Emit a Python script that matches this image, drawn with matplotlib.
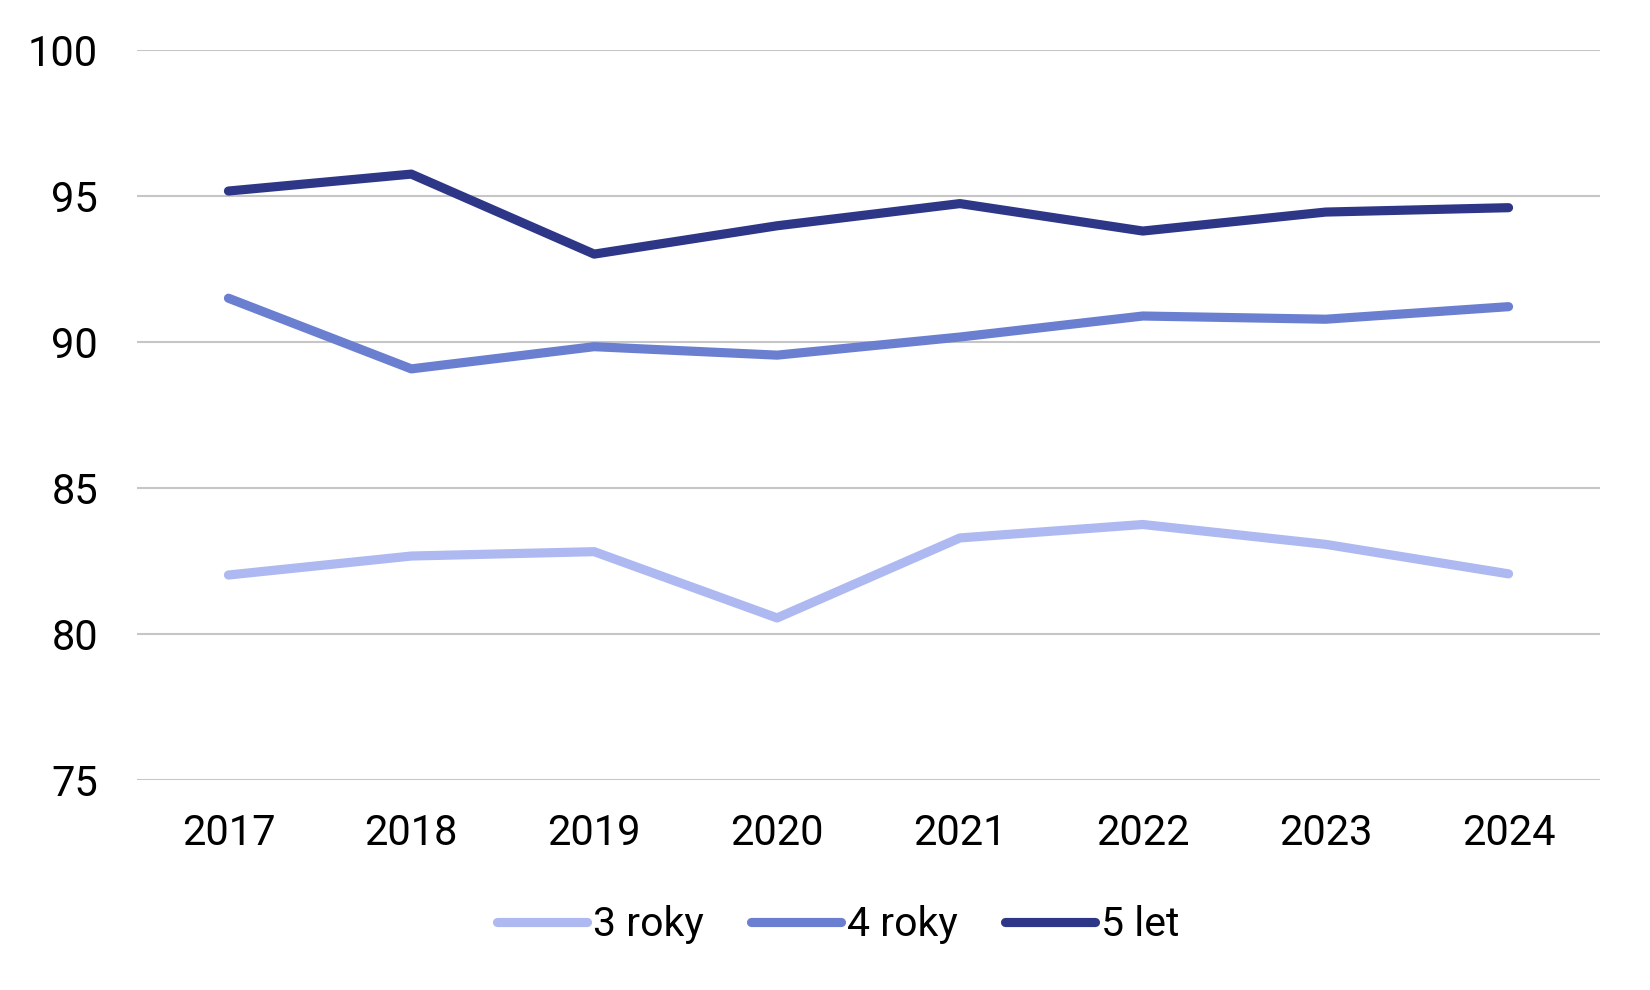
import matplotlib
matplotlib.use("Agg")
import matplotlib.pyplot as plt

years = ["2017", "2018", "2019", "2020", "2021", "2022", "2023", "2024"]
roky3 = [82.02, 82.67, 82.82, 80.55, 83.29, 83.75, 83.07, 82.06]
roky4 = [91.50, 89.08, 89.84, 89.55, 90.17, 90.89, 90.78, 91.21]
let5 = [95.17, 95.75, 93.01, 93.98, 94.74, 93.80, 94.45, 94.60]
labels = ["3 roky", "4 roky", "5 let"]
colors = ["#adb9f0", "#6a7fd0", "#2e3787"]
yticks = [75, 80, 85, 90, 95, 100]

plt.rcParams['font.family'] = ['Roboto', 'DejaVu Sans']

fig = plt.figure(figsize=(16.5, 9.9), dpi=100)
ax = fig.add_axes([137/1650, 1 - 780/990, (1600-137)/1650, (780-50)/990])

x = list(range(len(years)))
for vals, lab, col in zip([roky3, roky4, let5], labels, colors):
    ax.plot(x, vals, color=col, lw=6.6, label=lab,
            solid_capstyle='round', solid_joinstyle='round')

ax.set_xlim(-0.5, len(years) - 0.5)
ax.set_ylim(75, 100)
ax.set_yticks(yticks)
ax.set_yticklabels([str(t) for t in yticks])
ax.set_xticks(x)
ax.set_xticklabels(years)
ax.tick_params(axis='both', length=0, labelsize=30, colors='#000000')
ax.tick_params(axis='y', pad=28)
ax.tick_params(axis='x', pad=24)
ax.grid(axis='y', color='#c6c6c6', lw=1.5)
ax.set_axisbelow(True)
for s in ax.spines.values():
    s.set_visible(False)

leg = fig.legend(loc='center', bbox_to_anchor=(0.508, 1 - 925/990), ncol=3,
                 frameon=False, fontsize=29.5, handlelength=2.2,
                 handletextpad=0.15, columnspacing=1.15)

fig.savefig("out.png", dpi=100)
